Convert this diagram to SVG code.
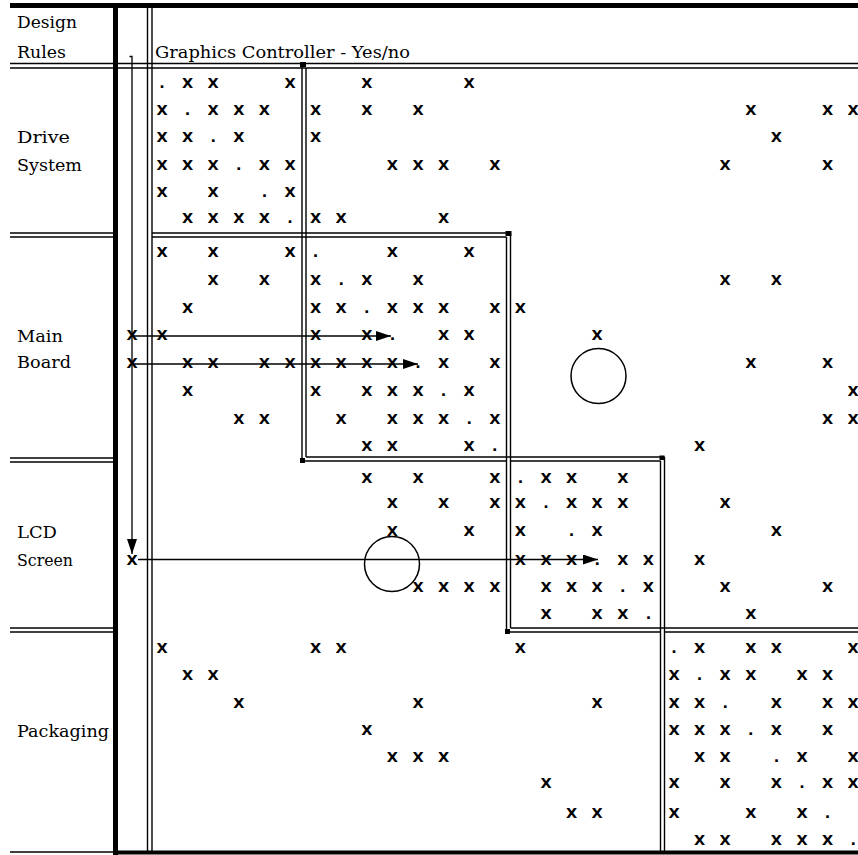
<svg xmlns="http://www.w3.org/2000/svg" width="858" height="855" viewBox="0 0 858 855">
<defs>
<style>
.lbl{font-family:"DejaVu Serif","Liberation Serif",serif;font-size:17.5px;fill:#000}
.hdr{font-family:"DejaVu Serif","Liberation Serif",serif;font-size:16.5px;fill:#000}
.m{font-family:"DejaVu Sans","Liberation Sans",sans-serif;font-size:14.5px;font-weight:bold;text-anchor:middle;fill:#000}
.ln{stroke:#000;stroke-width:1.4;fill:none}
.thick{stroke:#000;stroke-width:5;fill:none}
.conn{stroke:#000;stroke-width:1.3;fill:none}
.circ{stroke:#000;stroke-width:1.5;fill:none}
</style>
<marker id="ah" markerWidth="15" markerHeight="10" refX="15" refY="5" orient="auto" markerUnits="userSpaceOnUse"><path d="M0,0 L15,5 L0,10 z" fill="#000"/></marker>
</defs>
<rect width="858" height="855" fill="#fff"/>

<g id="grid">
<line class="thick" x1="10" y1="5.5" x2="858" y2="5.5"/>
<line class="thick" x1="115.5" y1="3" x2="115.5" y2="855"/>
<line x1="113" y1="852.5" x2="858" y2="852.5" stroke="#000" stroke-width="4"/>
<line class="ln" x1="10" y1="852" x2="113" y2="852"/>
<line class="ln" x1="10" y1="63.5" x2="858" y2="63.5"/>
<line class="ln" x1="10" y1="68" x2="858" y2="68"/>
<line class="ln" x1="147.5" y1="8" x2="147.5" y2="851"/>
<line class="ln" x1="152" y1="8" x2="152" y2="851"/>
<line class="ln" x1="10" y1="233" x2="113" y2="233"/>
<line class="ln" x1="10" y1="237" x2="113" y2="237"/>
<line class="ln" x1="10" y1="458" x2="113" y2="458"/>
<line class="ln" x1="10" y1="462" x2="113" y2="462"/>
<line class="ln" x1="10" y1="628" x2="113" y2="628"/>
<line class="ln" x1="10" y1="632" x2="113" y2="632"/>
<line class="ln" x1="302" y1="63.5" x2="302" y2="461"/>
<line class="ln" x1="306" y1="68" x2="306" y2="457"/>
<line class="ln" x1="152" y1="233" x2="510.5" y2="233"/>
<line class="ln" x1="152" y1="237" x2="506.5" y2="237"/>
<line class="ln" x1="506.5" y1="237" x2="506.5" y2="632"/>
<line class="ln" x1="510.5" y1="233" x2="510.5" y2="628"/>
<line class="ln" x1="302" y1="461" x2="506.5" y2="461"/>
<line class="ln" x1="306" y1="457" x2="664.5" y2="457"/>
<line class="ln" x1="510.5" y1="461" x2="660.5" y2="461"/>
<line class="ln" x1="660.5" y1="461" x2="660.5" y2="851"/>
<line class="ln" x1="664.5" y1="457" x2="664.5" y2="851"/>
<line class="ln" x1="506.5" y1="632" x2="660.5" y2="632"/>
<line class="ln" x1="510.5" y1="628" x2="858" y2="628"/>
<line class="ln" x1="664.5" y1="632" x2="858" y2="632"/>
<rect x="300" y="62" width="6" height="5" fill="#000"/>
<rect x="505.5" y="231" width="6" height="5" fill="#000"/>
<rect x="300" y="458" width="5" height="5" fill="#000"/>
<rect x="505" y="629" width="5" height="5" fill="#000"/>
<rect x="659.5" y="455.5" width="5" height="4.5" fill="#000"/>
</g>

<g id="header">
<text class="lbl" x="17" y="28" textLength="60" lengthAdjust="spacingAndGlyphs">Design</text>
<text class="lbl" x="17" y="58" textLength="49" lengthAdjust="spacingAndGlyphs">Rules</text>
<text class="hdr" x="155" y="58" textLength="255" lengthAdjust="spacingAndGlyphs">Graphics Controller - Yes/no</text>
</g>

<g id="drive-system">
<text class="lbl" x="17" y="143" textLength="53" lengthAdjust="spacingAndGlyphs">Drive</text>
<text class="lbl" x="17" y="171" textLength="65" lengthAdjust="spacingAndGlyphs">System</text>
<text class="m" x="162" y="88">.</text><text class="m" x="187.6" y="88">X</text><text class="m" x="213.2" y="88">X</text><text class="m" x="290" y="88">X</text><text class="m" x="366.8" y="88">X</text><text class="m" x="469.2" y="88">X</text>
<text class="m" x="162" y="115">X</text><text class="m" x="187.6" y="115">.</text><text class="m" x="213.2" y="115">X</text><text class="m" x="238.8" y="115">X</text><text class="m" x="264.4" y="115">X</text><text class="m" x="315.6" y="115">X</text><text class="m" x="366.8" y="115">X</text><text class="m" x="418" y="115">X</text><text class="m" x="750.8" y="115">X</text><text class="m" x="827.6" y="115">X</text><text class="m" x="853.2" y="115">X</text>
<text class="m" x="162" y="142">X</text><text class="m" x="187.6" y="142">X</text><text class="m" x="213.2" y="142">.</text><text class="m" x="238.8" y="142">X</text><text class="m" x="315.6" y="142">X</text><text class="m" x="776.4" y="142">X</text>
<text class="m" x="162" y="170">X</text><text class="m" x="187.6" y="170">X</text><text class="m" x="213.2" y="170">X</text><text class="m" x="238.8" y="170">.</text><text class="m" x="264.4" y="170">X</text><text class="m" x="290" y="170">X</text><text class="m" x="392.4" y="170">X</text><text class="m" x="418" y="170">X</text><text class="m" x="443.6" y="170">X</text><text class="m" x="494.8" y="170">X</text><text class="m" x="725.2" y="170">X</text><text class="m" x="827.6" y="170">X</text>
<text class="m" x="162" y="197">X</text><text class="m" x="213.2" y="197">X</text><text class="m" x="264.4" y="197">.</text><text class="m" x="290" y="197">X</text>
<text class="m" x="187.6" y="223">X</text><text class="m" x="213.2" y="223">X</text><text class="m" x="238.8" y="223">X</text><text class="m" x="264.4" y="223">X</text><text class="m" x="290" y="223">.</text><text class="m" x="315.6" y="223">X</text><text class="m" x="341.2" y="223">X</text><text class="m" x="443.6" y="223">X</text>
</g>

<g id="main-board">
<text class="lbl" x="17" y="342" textLength="46" lengthAdjust="spacingAndGlyphs">Main</text>
<text class="lbl" x="17" y="368" textLength="54" lengthAdjust="spacingAndGlyphs">Board</text>
<text class="m" x="162" y="257">X</text><text class="m" x="213.2" y="257">X</text><text class="m" x="290" y="257">X</text><text class="m" x="315.6" y="257">.</text><text class="m" x="392.4" y="257">X</text><text class="m" x="469.2" y="257">X</text>
<text class="m" x="213.2" y="285">X</text><text class="m" x="264.4" y="285">X</text><text class="m" x="315.6" y="285">X</text><text class="m" x="341.2" y="285">.</text><text class="m" x="366.8" y="285">X</text><text class="m" x="418" y="285">X</text><text class="m" x="725.2" y="285">X</text><text class="m" x="776.4" y="285">X</text>
<text class="m" x="187.6" y="313">X</text><text class="m" x="315.6" y="313">X</text><text class="m" x="341.2" y="313">X</text><text class="m" x="366.8" y="313">.</text><text class="m" x="392.4" y="313">X</text><text class="m" x="418" y="313">X</text><text class="m" x="443.6" y="313">X</text><text class="m" x="494.8" y="313">X</text><text class="m" x="520.4" y="313">X</text>
<text class="m" x="132" y="340">X</text><text class="m" x="162" y="340">X</text><text class="m" x="315.6" y="340">X</text><text class="m" x="366.8" y="340">X</text><text class="m" x="392.4" y="340">.</text><text class="m" x="443.6" y="340">X</text><text class="m" x="469.2" y="340">X</text><text class="m" x="597.2" y="340">X</text>
<text class="m" x="132" y="368">X</text><text class="m" x="187.6" y="368">X</text><text class="m" x="213.2" y="368">X</text><text class="m" x="264.4" y="368">X</text><text class="m" x="290" y="368">X</text><text class="m" x="315.6" y="368">X</text><text class="m" x="341.2" y="368">X</text><text class="m" x="366.8" y="368">X</text><text class="m" x="392.4" y="368">X</text><text class="m" x="418" y="368">.</text><text class="m" x="443.6" y="368">X</text><text class="m" x="494.8" y="368">X</text><text class="m" x="750.8" y="368">X</text><text class="m" x="827.6" y="368">X</text>
<text class="m" x="187.6" y="396">X</text><text class="m" x="315.6" y="396">X</text><text class="m" x="366.8" y="396">X</text><text class="m" x="392.4" y="396">X</text><text class="m" x="418" y="396">X</text><text class="m" x="443.6" y="396">.</text><text class="m" x="469.2" y="396">X</text><text class="m" x="853.2" y="396">X</text>
<text class="m" x="238.8" y="424">X</text><text class="m" x="264.4" y="424">X</text><text class="m" x="341.2" y="424">X</text><text class="m" x="392.4" y="424">X</text><text class="m" x="418" y="424">X</text><text class="m" x="443.6" y="424">X</text><text class="m" x="469.2" y="424">.</text><text class="m" x="494.8" y="424">X</text><text class="m" x="827.6" y="424">X</text><text class="m" x="853.2" y="424">X</text>
<text class="m" x="366.8" y="451">X</text><text class="m" x="392.4" y="451">X</text><text class="m" x="469.2" y="451">X</text><text class="m" x="494.8" y="451">.</text><text class="m" x="699.6" y="451">X</text>
</g>

<g id="lcd-screen">
<text class="lbl" x="17" y="538" textLength="40" lengthAdjust="spacingAndGlyphs">LCD</text>
<text class="lbl" x="17" y="566" textLength="56" lengthAdjust="spacingAndGlyphs">Screen</text>
<text class="m" x="366.8" y="483">X</text><text class="m" x="418" y="483">X</text><text class="m" x="494.8" y="483">X</text><text class="m" x="520.4" y="483">.</text><text class="m" x="546" y="483">X</text><text class="m" x="571.6" y="483">X</text><text class="m" x="622.8" y="483">X</text>
<text class="m" x="392.4" y="508">X</text><text class="m" x="443.6" y="508">X</text><text class="m" x="494.8" y="508">X</text><text class="m" x="520.4" y="508">X</text><text class="m" x="546" y="508">.</text><text class="m" x="571.6" y="508">X</text><text class="m" x="597.2" y="508">X</text><text class="m" x="622.8" y="508">X</text><text class="m" x="725.2" y="508">X</text>
<text class="m" x="392.4" y="536">X</text><text class="m" x="469.2" y="536">X</text><text class="m" x="520.4" y="536">X</text><text class="m" x="571.6" y="536">.</text><text class="m" x="597.2" y="536">X</text><text class="m" x="776.4" y="536">X</text>
<text class="m" x="132" y="565">X</text><text class="m" x="520.4" y="565">X</text><text class="m" x="546" y="565">X</text><text class="m" x="571.6" y="565">X</text><text class="m" x="597.2" y="565">.</text><text class="m" x="622.8" y="565">X</text><text class="m" x="648.4" y="565">X</text><text class="m" x="699.6" y="565">X</text>
<text class="m" x="418" y="592">X</text><text class="m" x="443.6" y="592">X</text><text class="m" x="469.2" y="592">X</text><text class="m" x="494.8" y="592">X</text><text class="m" x="546" y="592">X</text><text class="m" x="571.6" y="592">X</text><text class="m" x="597.2" y="592">X</text><text class="m" x="622.8" y="592">.</text><text class="m" x="648.4" y="592">X</text><text class="m" x="725.2" y="592">X</text><text class="m" x="827.6" y="592">X</text>
<text class="m" x="546" y="619">X</text><text class="m" x="597.2" y="619">X</text><text class="m" x="622.8" y="619">X</text><text class="m" x="648.4" y="619">.</text><text class="m" x="750.8" y="619">X</text>
</g>

<g id="packaging">
<text class="lbl" x="17" y="737" textLength="92" lengthAdjust="spacingAndGlyphs">Packaging</text>
<text class="m" x="162" y="653">X</text><text class="m" x="315.6" y="653">X</text><text class="m" x="341.2" y="653">X</text><text class="m" x="520.4" y="653">X</text><text class="m" x="674" y="653">.</text><text class="m" x="699.6" y="653">X</text><text class="m" x="750.8" y="653">X</text><text class="m" x="776.4" y="653">X</text><text class="m" x="853.2" y="653">X</text>
<text class="m" x="187.6" y="680">X</text><text class="m" x="213.2" y="680">X</text><text class="m" x="674" y="680">X</text><text class="m" x="699.6" y="680">.</text><text class="m" x="725.2" y="680">X</text><text class="m" x="750.8" y="680">X</text><text class="m" x="802" y="680">X</text><text class="m" x="827.6" y="680">X</text>
<text class="m" x="238.8" y="708">X</text><text class="m" x="418" y="708">X</text><text class="m" x="597.2" y="708">X</text><text class="m" x="674" y="708">X</text><text class="m" x="699.6" y="708">X</text><text class="m" x="725.2" y="708">.</text><text class="m" x="776.4" y="708">X</text><text class="m" x="827.6" y="708">X</text><text class="m" x="853.2" y="708">X</text>
<text class="m" x="366.8" y="735">X</text><text class="m" x="674" y="735">X</text><text class="m" x="699.6" y="735">X</text><text class="m" x="725.2" y="735">X</text><text class="m" x="750.8" y="735">.</text><text class="m" x="776.4" y="735">X</text><text class="m" x="827.6" y="735">X</text>
<text class="m" x="392.4" y="762">X</text><text class="m" x="418" y="762">X</text><text class="m" x="443.6" y="762">X</text><text class="m" x="699.6" y="762">X</text><text class="m" x="725.2" y="762">X</text><text class="m" x="776.4" y="762">.</text><text class="m" x="802" y="762">X</text><text class="m" x="853.2" y="762">X</text>
<text class="m" x="546" y="788">X</text><text class="m" x="674" y="788">X</text><text class="m" x="725.2" y="788">X</text><text class="m" x="776.4" y="788">X</text><text class="m" x="802" y="788">.</text><text class="m" x="827.6" y="788">X</text><text class="m" x="853.2" y="788">X</text>
<text class="m" x="571.6" y="818">X</text><text class="m" x="597.2" y="818">X</text><text class="m" x="674" y="818">X</text><text class="m" x="750.8" y="818">X</text><text class="m" x="802" y="818">X</text><text class="m" x="827.6" y="818">.</text>
<text class="m" x="699.6" y="845">X</text><text class="m" x="725.2" y="845">X</text><text class="m" x="776.4" y="845">X</text><text class="m" x="802" y="845">X</text><text class="m" x="827.6" y="845">X</text><text class="m" x="853.2" y="845">.</text>
</g>

<g id="highlights">
<circle class="circ" cx="598.5" cy="376" r="27.5"/>
<circle class="circ" cx="392" cy="564" r="27.5"/>
</g>

<g id="connectors">
<path class="conn" d="M129.5,56.5 H132 V554" marker-end="url(#ah)"/>
<line class="conn" x1="133" y1="336" x2="391" y2="336" marker-end="url(#ah)"/>
<line class="conn" x1="133" y1="364" x2="418" y2="364" marker-end="url(#ah)"/>
<line class="conn" x1="138" y1="559.5" x2="598" y2="559.5" marker-end="url(#ah)"/>
</g>
</svg>
